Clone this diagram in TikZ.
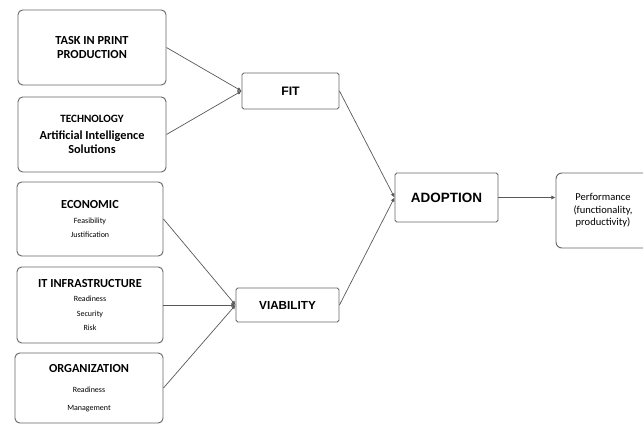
\documentclass[tikz,border=0pt]{standalone}
\usepackage{fontspec}
\setmainfont{Carlito}
\newfontfamily\arialf{Liberation Sans}
\usetikzlibrary{arrows.meta}
\newcommand{\pxu}{0.03cm}
\tikzset{
  box/.style={draw=black!60, line width=0.8pt, rounded corners=4pt, align=center, inner sep=0pt, font=\bfseries},
  mid/.style={draw=black!60, line width=0.8pt, rounded corners=1.5pt, align=center, inner sep=0pt, font=\arialf\bfseries},
  conn/.style={draw=black!65, line width=0.6pt, -{Latex[length=3.5pt,width=3.5pt]}},
}
\newcommand{\sub}[1]{{\mdseries\fontsize{6.8}{11}\selectfont #1}}
\newcommand{\ttl}[1]{{\fontsize{10.5}{12}\selectfont #1}}
\begin{document}
\begin{tikzpicture}[x=\pxu,y=-\pxu]
\useasboundingbox (0,0) rectangle (643,425);
\clip (0,0) rectangle (643,425);
\node[box, minimum width=148*\pxu, minimum height=75*\pxu, font=\bfseries\fontsize{10.5}{11.5}\selectfont] (task) at (92,47.5) {TASK IN PRINT\\PRODUCTION};
\node[box, minimum width=148*\pxu, minimum height=75*\pxu] (tech) at (92,134.5) {{\fontsize{9.5}{12}\selectfont TECHNOLOGY}\\[2pt]{\fontsize{10.5}{12}\selectfont Artificial Intelligence}\\{\fontsize{10.5}{12}\selectfont Solutions}};
\node[box, minimum width=146*\pxu, minimum height=74*\pxu] (econ) at (90,219) {\ttl{ECONOMIC}\\[1pt]\sub{Feasibility}\\\sub{Justification}};
\node[box, minimum width=146*\pxu, minimum height=76*\pxu] (itinf) at (90,305) {\ttl{IT INFRASTRUCTURE}\\[0pt]\sub{Readiness}\\\sub{Security}\\\sub{Risk}};
\node[box, minimum width=148*\pxu, minimum height=70*\pxu] (org) at (89,388) {\ttl{ORGANIZATION}\\[5pt]\sub{Readiness}\\[3pt]\sub{Management}};
\node[mid, minimum width=97*\pxu, minimum height=36*\pxu, font=\arialf\bfseries\fontsize{10.5}{12}\selectfont] (fit) at (290.5,91) {FIT};
\node[mid, minimum width=103*\pxu, minimum height=34*\pxu, font=\arialf\bfseries\fontsize{10}{12}\selectfont] (via) at (287.5,305) {VIABILITY};
\node[mid, minimum width=103*\pxu, minimum height=49*\pxu, font=\arialf\bfseries\fontsize{11.5}{12}\selectfont] (adop) at (446.5,197.5) {ADOPTION};
\node[box, minimum width=94*\pxu, minimum height=75*\pxu, rounded corners=5pt, font=\fontsize{9}{10.7}\selectfont] (perf) at (603,210.5) {Performance\\(functionality,\\productivity)};
\draw[conn] (task.east) -- (fit.west);
\draw[conn] (tech.east) -- (fit.west);
\draw[conn] (econ.east) -- (via.west);
\draw[conn] (itinf.east) -- (via.west);
\draw[conn] (org.east) -- (via.west);
\draw[conn] (fit.east) -- (adop.west);
\draw[conn] (via.east) -- (adop.west);
\draw[conn] (adop.east) -- (adop.east -| perf.west);
\end{tikzpicture}
\end{document}
